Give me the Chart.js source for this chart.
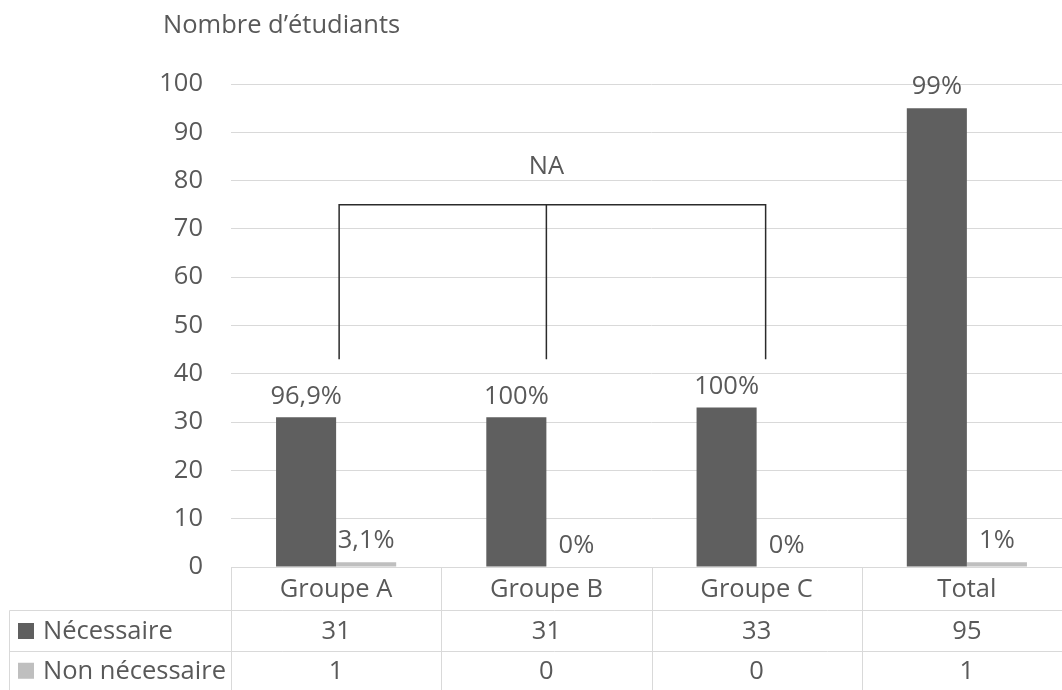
<!DOCTYPE html>
<html><head><meta charset="utf-8">
<script src="https://cdn.jsdelivr.net/npm/chart.js@4"></script>
<style>html,body{margin:0;padding:0;overflow:hidden;background:#fff;width:1062px;height:690px}</style>
</head><body>
<canvas id="c" width="1100" height="690" style="display:block"></canvas>
<script>
const categories = ['Groupe A', 'Groupe B', 'Groupe C', 'Total'];
const seriesNames = ['Nécessaire', 'Non nécessaire'];
const necessaire = [31, 31, 33, 95];
const nonNecessaire = [1, 0, 0, 1];
const pctNecessaire = ['96,9%', '100%', '100%', '99%'];
const pctNonNecessaire = ['3,1%', '0%', '0%', '1%'];
const yMin = 0, yMax = 100, yStep = 10;
const axisTitle = 'Nombre d’étudiants';
const bracketLabel = 'NA';

const FONT = '"Open Sans"';
const FS = 25.5;
const TXT = '#595959';
const C_DARK = '#5f5f5f';
const C_LIGHT = '#bfbfbf';
const GRID = '#d9d9d9';

const labelPlugin = {
  id: 'labels',
  afterDatasetsDraw(chart) {
    const ctx = chart.ctx;
    const pcts = [pctNecessaire, pctNonNecessaire];
    ctx.save();
    ctx.font = FS + 'px ' + FONT;
    ctx.fillStyle = TXT;
    ctx.textAlign = 'center';
    ctx.textBaseline = 'middle';
    chart.data.datasets.forEach((ds, di) => {
      const meta = chart.getDatasetMeta(di);
      meta.data.forEach((bar, i) => {
        ctx.fillText(pcts[di][i], bar.x, bar.y - 21);
      });
    });
    ctx.restore();
  }
};

const bracketPlugin = {
  id: 'bracket',
  afterDatasetsDraw(chart) {
    const ctx = chart.ctx;
    const x = chart.scales.x, y = chart.scales.y;
    const xl = x.getPixelForValue(0) + 3;
    const xm = x.getPixelForValue(1);
    const xr = x.getPixelForValue(2) + 9;
    const yt = y.getPixelForValue(75);
    const yb = y.getPixelForValue(43);
    ctx.save();
    ctx.strokeStyle = '#2b2b2b';
    ctx.lineWidth = 1.5;
    ctx.beginPath();
    ctx.moveTo(xl, yb); ctx.lineTo(xl, yt); ctx.lineTo(xr, yt); ctx.lineTo(xr, yb);
    ctx.moveTo(xm, yt); ctx.lineTo(xm, yb);
    ctx.stroke();
    ctx.font = FS + 'px ' + FONT;
    ctx.fillStyle = TXT;
    ctx.textAlign = 'center';
    ctx.textBaseline = 'middle';
    ctx.fillText(bracketLabel, xm, y.getPixelForValue(82.9));
    ctx.restore();
  }
};

const tablePlugin = {
  id: 'table',
  afterDraw(chart) {
    const ctx = chart.ctx;
    const ca = chart.chartArea;
    const W = chart.width;
    const x = chart.scales.x;
    const n = categories.length;
    const cw = (ca.right - ca.left) / n;
    const y0 = Math.round(ca.bottom) + 0.5;
    const r1 = 610.5, r2 = 651.5, r3 = 690;
    const lx = 9.5;
    ctx.save();
    ctx.strokeStyle = GRID;
    ctx.lineWidth = 1;
    ctx.beginPath();
    ctx.moveTo(ca.left, y0); ctx.lineTo(W, y0);
    ctx.moveTo(lx, r1); ctx.lineTo(W, r1);
    ctx.moveTo(lx, r2); ctx.lineTo(W, r2);
    ctx.moveTo(lx, r1); ctx.lineTo(lx, r3);
    for (let i = 0; i <= n; i++) {
      const xx = Math.round(ca.left + i * cw) + 0.5;
      ctx.moveTo(xx, y0); ctx.lineTo(xx, r3);
    }
    ctx.stroke();
    ctx.font = FS + 'px ' + FONT;
    ctx.fillStyle = TXT;
    ctx.textAlign = 'center';
    ctx.textBaseline = 'middle';
    const rows = [necessaire, nonNecessaire];
    categories.forEach((c, i) => {
      const cx = x.getPixelForValue(i);
      ctx.fillText(c, cx, (y0 + r1) / 2 + 1);
      ctx.fillText(String(rows[0][i]), cx, (r1 + r2) / 2 + 1);
      ctx.fillText(String(rows[1][i]), cx, (r2 + r3) / 2 + 1);
    });
    ctx.textAlign = 'left';
    const colors = [C_DARK, C_LIGHT];
    const rowMid = [(r1 + r2) / 2, (r2 + r3) / 2];
    seriesNames.forEach((s, i) => {
      ctx.fillStyle = colors[i];
      ctx.fillRect(18, rowMid[i] - 8, 16, 16);
      ctx.fillStyle = TXT;
      ctx.fillText(s, 43, rowMid[i] + 1);
    });
    ctx.fillText(axisTitle, 163, 26);
    ctx.restore();
  }
};

new Chart(document.getElementById('c'), {
  type: 'bar',
  data: {
    labels: categories,
    datasets: [
      { label: seriesNames[0], data: necessaire, backgroundColor: C_DARK },
      { label: seriesNames[1], data: nonNecessaire, backgroundColor: C_LIGHT }
    ]
  },
  options: {
    responsive: false,
    animation: false,
    devicePixelRatio: 1,
    layout: { padding: { top: 84, bottom: 123, left: 0, right: 28 } },
    plugins: { legend: { display: false }, tooltip: { enabled: false }, title: { display: false } },
    datasets: { bar: { categoryPercentage: 120 / 210, barPercentage: 1 } },
    scales: {
      x: {
        display: true,
        grid: { display: false, drawTicks: false },
        border: { display: false },
        ticks: { display: false }
      },
      y: {
        min: yMin, max: yMax,
        border: { display: false },
        grid: { color: GRID, drawTicks: false, lineWidth: 1 },
        ticks: { stepSize: yStep, padding: 28, color: TXT, font: { family: FONT, size: FS } },
        afterFit(scale) { scale.width = 231; }
      }
    }
  },
  plugins: [labelPlugin, bracketPlugin, tablePlugin]
});
</script>
</body></html>
